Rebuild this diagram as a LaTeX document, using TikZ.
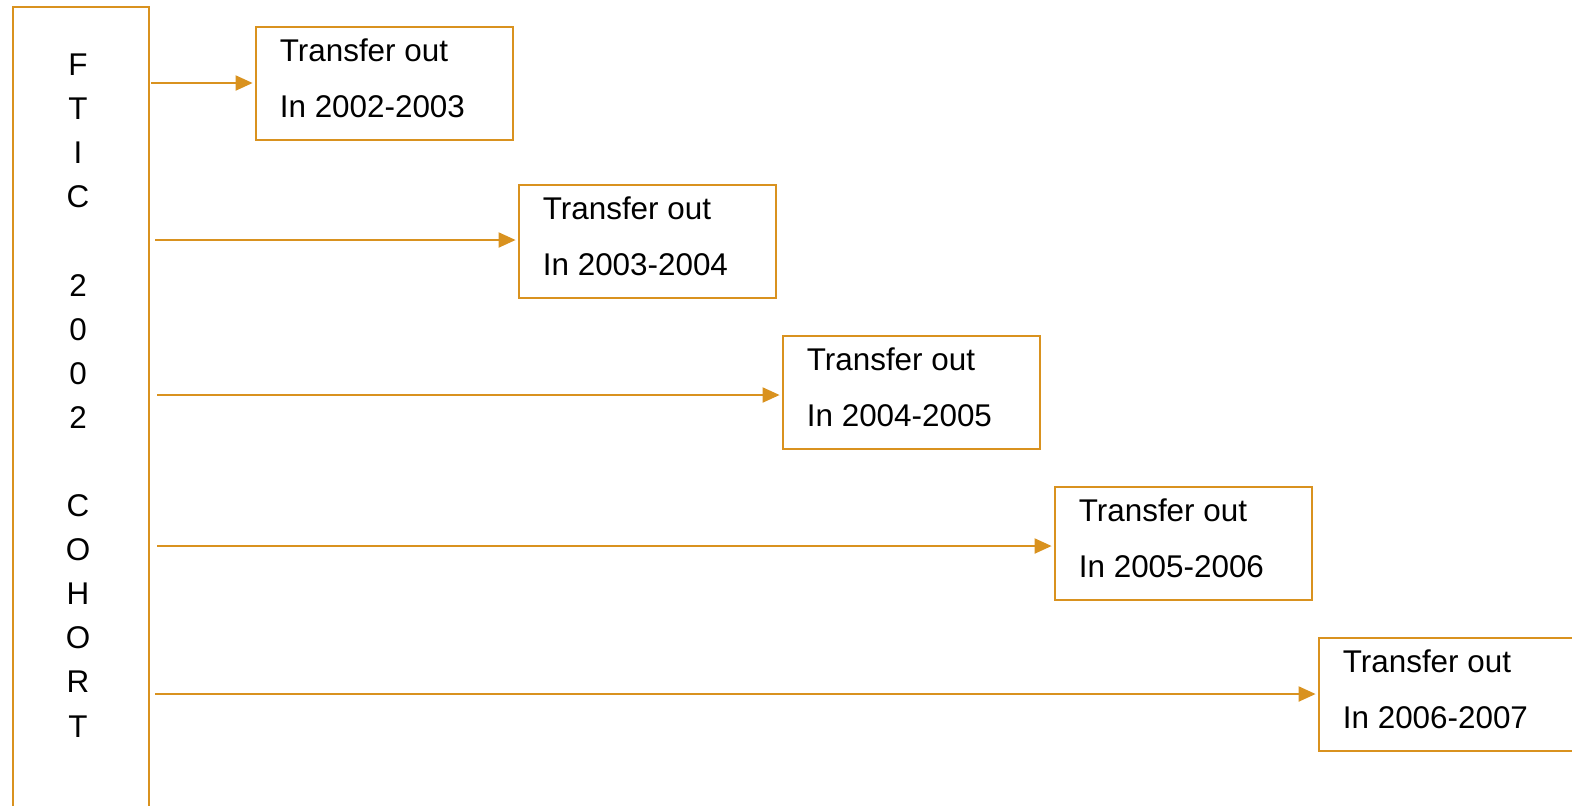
\documentclass[tikz,border=0pt]{standalone}
\usepackage{fontspec}
\setmainfont{Liberation Sans}
\usetikzlibrary{arrows.meta,calc}
\definecolor{gold}{RGB}{217,146,31}
\begin{document}
\begin{tikzpicture}[x=0.5pt,y=-0.5pt,
  cohortbox/.style={draw=gold,line width=1.2pt,minimum width=68pt,minimum height=415pt,inner sep=0pt,anchor=north west},
  tbox/.style={draw=gold,line width=0.9pt,minimum width=128.5pt,minimum height=56.5pt,inner sep=0pt,anchor=north west},
  letter/.style={font=\fontsize{15.7pt}{18pt}\selectfont,inner sep=0pt,anchor=base},
  btext/.style={font=\fontsize{15.7pt}{18pt}\selectfont,inner sep=0pt,anchor=base west},
  flow/.style={draw=gold,line width=1pt,-{Triangle[length=8.5pt,width=7.5pt]},shorten >=1.2pt}]
\useasboundingbox (0,0) rectangle (1572,805);
\clip (0,0) rectangle (1572,805);
\node[cohortbox] (cohort) at (12,6) {};
\foreach \ch/\k in {F/0,T/1,I/2,C/3,2/5,0/6,0/7,2/8,C/10,O/11,H/12,O/13,R/14,T/15}
  \node[letter] (l\k) at (78,75.5+44.1*\k) {\ch};
\foreach \i/\bx/\by/\ax/\ay/\yr in {1/255/26/151/83/2002-2003,2/518/184/155/240/2003-2004,3/782/335/157/395/2004-2005,4/1054/486/157/546/2005-2006,5/1318/637/155/694/2006-2007}{
  \node[tbox] (b\i) at (\bx,\by) {};
  \node[btext] (ta\i) at ($(b\i.north west)+(24.5,35)$) {Transfer out};
  \node[btext] (tb\i) at ($(b\i.north west)+(24.5,91)$) {In \yr};
  \coordinate (a\i) at (\ax,\ay);
  \draw[flow] (a\i) -- (a\i -| b\i.west);
}
\end{tikzpicture}
\end{document}
